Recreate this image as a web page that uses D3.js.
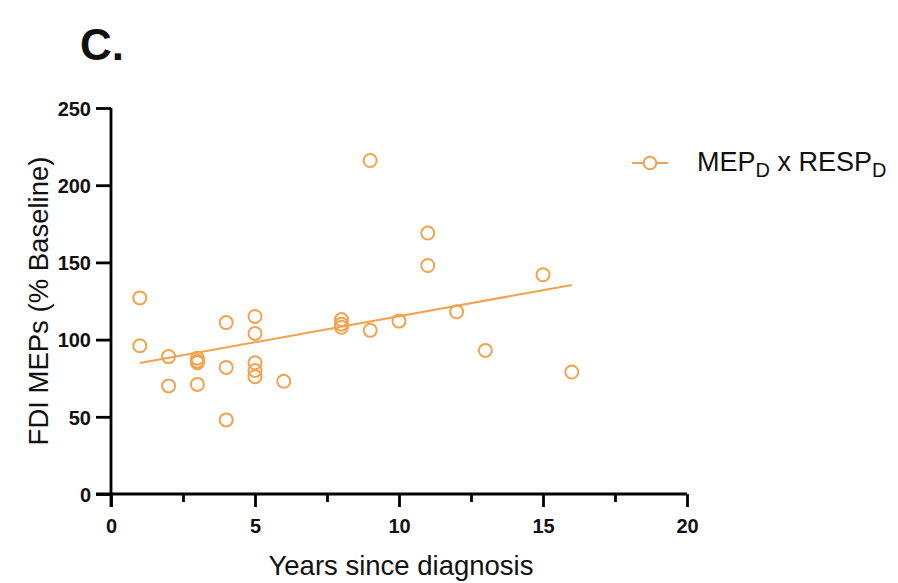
<!DOCTYPE html>
<html><head><meta charset="utf-8">
<script src="https://cdn.jsdelivr.net/npm/d3@7"></script>
<style>body{margin:0;background:#fff}svg{display:block}</style>
</head><body>
<svg id="c" width="898" height="583"></svg>
<script>
const years = [1,1,2,2,3,3,3,3,4,4,4,5,5,5,5,5,6,8,8,8,9,9,10,11,11,12,13,15,16];
const meps  = [127,96,89,70,88,86,85,71,111,82,48,115,104,85,80,76,73,113,110,108,216,106,112,169,148,118,93,142,79];
const fitX = [1,16];
const fitY = [84.8,135.4];
const xTicks = [0,5,10,15,20];
const xMinor = [2.5,7.5,12.5,17.5];
const yTicks = [0,50,100,150,200,250];
const seriesName = ["MEP","D"," x RESP","D"];

const orange = "#F3A24D";
const svg = d3.select("#c");
const x = d3.scaleLinear().domain([0,20]).range([111,687]);
const y = d3.scaleLinear().domain([0,250]).range([494,108]);
const font = "Liberation Sans, Arial, sans-serif";

// panel label
svg.append("text").attr("x",80).attr("y",60).attr("font-family",font)
  .attr("font-weight","bold").attr("font-size",44).attr("fill","#111").text("C.");

// y axis
const yAx = svg.append("g").attr("transform",`translate(${x(0)},0)`)
  .call(d3.axisLeft(y).tickValues(yTicks).tickSize(15).tickPadding(5));
// x axis
const xAx = svg.append("g").attr("transform",`translate(0,${y(0)})`)
  .call(d3.axisBottom(x).tickValues(xTicks).tickSize(13).tickPadding(12));
svg.append("g").attr("transform",`translate(0,${y(0)})`)
  .call(d3.axisBottom(x).tickValues(xMinor).tickSize(8).tickFormat(""))
  .call(g=>g.select(".domain").remove());
svg.selectAll(".domain").attr("stroke","#000").attr("stroke-width",2.8);
svg.selectAll(".tick line").attr("stroke","#000").attr("stroke-width",2.8);
svg.selectAll(".tick text").attr("font-family",font).attr("font-weight","bold")
  .attr("font-size",20).attr("fill","#111");
yAx.selectAll(".tick text").attr("dy","0.36em");
// make domains plain lines (no outer ticks)
yAx.select(".domain").attr("d",`M0,${y(250)}V${y(0)+13}`);
xAx.select(".domain").attr("d",`M${x(0)-15},0H${x(20)}`);

// axis titles
svg.append("text").attr("transform",`translate(48,${(y(0)+y(250))/2}) rotate(-90)`)
  .attr("text-anchor","middle").attr("font-family",font).attr("font-size",27.5)
  .attr("fill","#111").text("FDI MEPs (% Baseline)");
svg.append("text").attr("x",(x(0)+x(20))/2 + 2).attr("y",575).attr("text-anchor","middle")
  .attr("font-family",font).attr("font-size",27.5).attr("fill","#111").text("Years since diagnosis");

// fit line
svg.append("line").attr("x1",x(fitX[0])).attr("y1",y(fitY[0]))
  .attr("x2",x(fitX[1])).attr("y2",y(fitY[1]))
  .attr("stroke",orange).attr("stroke-width",2);

// points
svg.append("g").selectAll("circle").data(years.map((d,i)=>[d,meps[i]])).join("circle")
  .attr("cx",d=>x(d[0])).attr("cy",d=>y(d[1])).attr("r",6.5)
  .attr("fill","none").attr("stroke",orange).attr("stroke-width",2);

// legend
const lg = svg.append("g");
lg.append("line").attr("x1",632).attr("x2",668).attr("y1",163).attr("y2",163)
  .attr("stroke",orange).attr("stroke-width",2);
lg.append("circle").attr("cx",650).attr("cy",163).attr("r",6.3)
  .attr("fill","#fff").attr("stroke",orange).attr("stroke-width",2);
const lt = lg.append("text").attr("x",697).attr("y",171).attr("font-family",font)
  .attr("font-size",27).attr("fill","#111");
seriesName.forEach((s,i)=>{
  const sp = lt.append("tspan").text(s);
  if(i%2===1) sp.attr("font-size",20).attr("dy",6);
  else if(i>0) sp.attr("dy",-6);
});
</script>
</body></html>
